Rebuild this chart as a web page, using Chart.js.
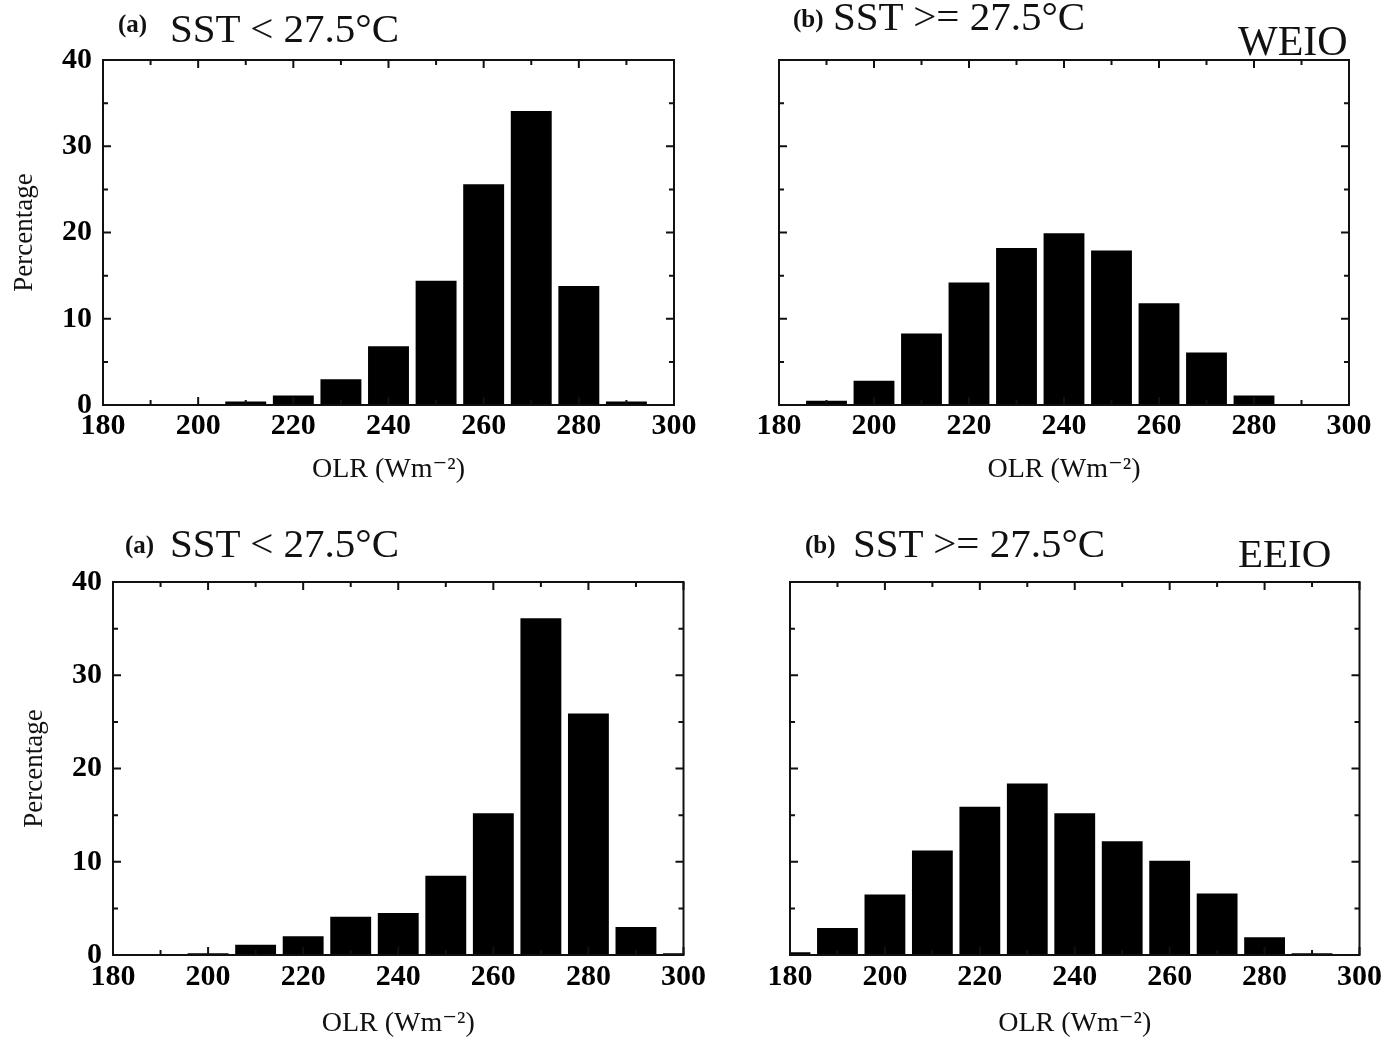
<!doctype html>
<html>

<head>
	<title>OLR histograms, WEIO and EEIO</title>
	<script src="https://cdn.jsdelivr.net/npm/chart.js@4.4.1/dist/chart.umd.min.js"></script>
	<style>
		body {
			margin: 0;
			background: #fff;
		}
		#page {
			position: relative;
			width: 1386px;
			height: 1040px;
			overflow: hidden;
			font-family: 'Liberation Serif', 'DejaVu Serif', serif;
			color: #111;
		}
		#page canvas {
			position: absolute;
		}
		.lbl {
			position: absolute;
			line-height: normal;
			white-space: nowrap;
		}
	</style>
</head>

<body>
	<div id="page"></div>
	<script>
		// bin centres of OLR (W m-2), values in percent
		var olrBins = [180, 190, 200, 210, 220, 230, 240, 250, 260, 270, 280, 290, 300];
		var weioCool = [0, 0, 0.1, 0.4, 1.1, 3.0, 6.8, 14.4, 25.6, 34.1, 13.8, 0.4, 0];
		var weioWarm = [0, 0.5, 2.8, 8.3, 14.2, 18.2, 19.9, 17.9, 11.8, 6.1, 1.1, 0, 0];
		var eeioCool = [0, 0, 0.2, 1.1, 2.0, 4.1, 4.5, 8.5, 15.2, 36.1, 25.9, 3.0, 0.2];
		var eeioWarm = [0.3, 2.9, 6.5, 11.2, 15.9, 18.4, 15.2, 12.2, 10.1, 6.6, 1.9, 0.2, 0];
		var olrTicks = [180, 200, 220, 240, 260, 280, 300];
		var pctTicks = [0, 10, 20, 30, 40];

		var FONT = "'Liberation Serif', 'DejaVu Serif', serif";
		var page = document.getElementById('page');

		function addText(text, left, baseline, size, bold) {
			var el = document.createElement('div');
			el.className = 'lbl';
			el.textContent = text;
			el.style.left = left + 'px';
			el.style.top = (baseline - 0.891 * size) + 'px';
			el.style.fontSize = size + 'px';
			if (bold) el.style.fontWeight = 'bold';
			page.appendChild(el);
		}

		// frame with inward ticks on all four sides
		var frameTicks = {
			id: 'frameTicks',
			afterDraw: function(chart) {
				var ctx = chart.ctx, a = chart.chartArea;
				var x = chart.scales.x, y = chart.scales.y;
				ctx.save();
				ctx.strokeStyle = '#111';
				ctx.lineWidth = 2;
				ctx.strokeRect(a.left, a.top, a.right - a.left, a.bottom - a.top);
				ctx.beginPath();
				for (var v = x.min; v <= x.max; v += 10) {
					var px = x.getPixelForValue(v);
					var len = v % 20 === 0 ? 8 : 5;
					ctx.moveTo(px, a.bottom); ctx.lineTo(px, a.bottom - len);
					ctx.moveTo(px, a.top); ctx.lineTo(px, a.top + len);
				}
				for (var w = y.min; w <= y.max; w += 5) {
					var py = y.getPixelForValue(w);
					var l2 = w % 10 === 0 ? 8 : 5;
					ctx.moveTo(a.left, py); ctx.lineTo(a.left + l2, py);
					ctx.moveTo(a.right, py); ctx.lineTo(a.right - l2, py);
				}
				ctx.stroke();
				ctx.restore();
			}
		};

		var panels = [
			{ values: weioCool, left: 0, top: 26, width: 700, height: 474, yAxisW: 103, xAxisH: 95, padRight: 26, yLabels: true, xTickPad: 3, xTitlePad: 14 },
			{ values: weioWarm, left: 749, top: 26, width: 626, height: 474, yAxisW: 30, xAxisH: 95, padRight: 26, yLabels: false, xTickPad: 3, xTitlePad: 14 },
			{ values: eeioCool, left: 10, top: 548, width: 700, height: 492, yAxisW: 103, xAxisH: 85, padRight: 26, yLabels: true, xTickPad: 4, xTitlePad: 0 },
			{ values: eeioWarm, left: 760, top: 548, width: 626, height: 492, yAxisW: 30, xAxisH: 85, padRight: 24, yLabels: false, xTickPad: 4, xTitlePad: 0 }
		];

		panels.forEach(function(p) {
			var canvas = document.createElement('canvas');
			canvas.width = p.width;
			canvas.height = p.height;
			canvas.style.left = p.left + 'px';
			canvas.style.top = p.top + 'px';
			page.appendChild(canvas);

			new Chart(canvas.getContext('2d'), {
				type: 'bar',
				data: {
					datasets: [{
						data: olrBins.map(function(b, i) { return { x: b, y: p.values[i] }; }),
						backgroundColor: '#000',
						borderWidth: 0,
						barPercentage: 0.86,
						categoryPercentage: 1,
						clip: 0
					}]
				},
				options: {
					responsive: false,
					animation: false,
					layout: { padding: { top: 34, right: p.padRight, bottom: 0, left: 0 } },
					plugins: { legend: { display: false }, tooltip: { enabled: false } },
					scales: {
						x: {
							type: 'linear',
							min: 180,
							max: 300,
							offset: false,
							grid: { display: false, drawTicks: false },
							border: { display: false },
							afterBuildTicks: function(s) { s.ticks = olrTicks.map(function(v) { return { value: v }; }); },
							ticks: { color: '#000', padding: p.xTickPad, maxRotation: 0, autoSkip: false, font: { family: FONT, size: 30, weight: 'bold' } },
							title: { display: true, text: 'OLR (Wm\u207B\u00B2)', color: '#111', padding: { top: 0, bottom: p.xTitlePad }, font: { family: FONT, size: 28 } },
							afterFit: function(s) { s.height = p.xAxisH; }
						},
						y: {
							min: 0,
							max: 40,
							grid: { display: false, drawTicks: false },
							border: { display: false },
							afterBuildTicks: function(s) { s.ticks = pctTicks.map(function(v) { return { value: v }; }); },
							ticks: { display: p.yLabels, color: '#000', padding: 11, font: { family: FONT, size: 30, weight: 'bold' } },
							title: { display: p.yLabels, text: 'Percentage', color: '#111', padding: { top: 9, bottom: 0 }, font: { family: FONT, size: 27 } },
							afterFit: function(s) { s.width = p.yAxisW; }
						}
					}
				},
				plugins: [frameTicks]
			});
		});

		addText('(a)', 118, 32, 25, true);
		addText('SST < 27.5\u00B0C', 170, 41, 41);
		addText('(b)', 793, 27, 25, true);
		addText('SST >= 27.5\u00B0C', 833, 29, 41);
		addText('WEIO', 1238, 54, 42);
		addText('(a)', 125, 553, 25, true);
		addText('SST < 27.5\u00B0C', 170, 556, 41);
		addText('(b)', 805, 553, 25, true);
		addText('SST >= 27.5\u00B0C', 853, 556, 41);
		addText('EEIO', 1238, 566, 41);
	</script>
</body>

</html>
